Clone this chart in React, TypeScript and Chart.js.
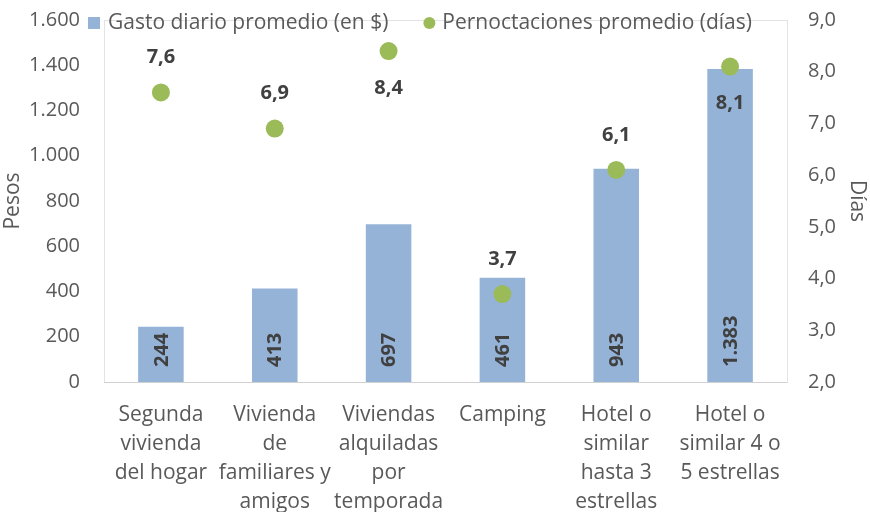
import React, { useEffect, useRef } from "react";
import { Chart, registerables } from "chart.js";

Chart.register(...registerables);

const categories: string[][] = [
  ["Segunda", "vivienda", "del hogar"],
  ["Vivienda", "de", "familiares y", "amigos"],
  ["Viviendas", "alquiladas", "por", "temporada"],
  ["Camping"],
  ["Hotel o", "similar", "hasta 3", "estrellas"],
  ["Hotel o", "similar 4 o", "5 estrellas"],
];
const gastoDiario = [244, 413, 697, 461, 943, 1383];
const pernoctaciones = [7.6, 6.9, 8.4, 3.7, 6.1, 8.1];
const pointLabelAbove = [true, true, false, true, true, false];
const leftTicks = { min: 0, max: 1600, step: 200 };
const rightTicks = { min: 2, max: 9, step: 1 };
const seriesNames = ["Gasto diario promedio (en $)", "Pernoctaciones promedio (días)"];
const axisTitles = ["Pesos", "Días"];

const FONT = "'Open Sans', sans-serif";
const FS = 20;
const FS_BIG = 21;
const TEXT = "#595959";
const LABEL = "#404040";
const BAR = "#95B3D7";
const DOT = "#9BBB59";

const fmtThousands = (v: number) =>
  String(Math.round(v)).replace(/\B(?=(\d{3})+(?!\d))/g, ".");
const fmtDec = (v: number) => v.toFixed(1).replace(".", ",");

const overlayPlugin = {
  id: "overlay",
  beforeDatasetsDraw(chart: any) {
    const { ctx, chartArea: a } = chart;
    ctx.save();
    ctx.strokeStyle = "#E3E3E3";
    ctx.lineWidth = 1;
    ctx.strokeRect(a.left + 0.5, a.top + 0.5, a.right - a.left, a.bottom - a.top);
    ctx.strokeStyle = "#D0D0D0";
    ctx.beginPath();
    ctx.moveTo(a.left, a.bottom + 0.5);
    ctx.lineTo(a.right, a.bottom + 0.5);
    ctx.stroke();
    ctx.restore();
  },
  afterDatasetsDraw(chart: any) {
    const { ctx } = chart;
    ctx.save();
    ctx.font = `bold ${FS}px ${FONT}`;
    ctx.fillStyle = LABEL;
    const bars = chart.getDatasetMeta(0).data;
    bars.forEach((el: any, i: number) => {
      ctx.save();
      ctx.translate(el.x, el.base - 15);
      ctx.rotate(-Math.PI / 2);
      ctx.textAlign = "left";
      ctx.textBaseline = "middle";
      ctx.fillText(fmtThousands(gastoDiario[i]), 0, 1);
      ctx.restore();
    });
    const pts = chart.getDatasetMeta(1).data;
    pts.forEach((el: any, i: number) => {
      ctx.textAlign = "center";
      ctx.textBaseline = "middle";
      const dy = pointLabelAbove[i] ? -35 : 37;
      ctx.fillText(fmtDec(pernoctaciones[i]), el.x, el.y + dy);
    });

    // legend
    ctx.font = `${FS_BIG}px ${FONT}`;
    ctx.textBaseline = "middle";
    ctx.textAlign = "left";
    const ly = 23;
    let x = 88;
    ctx.fillStyle = BAR;
    ctx.fillRect(x, ly - 6, 12, 12);
    x += 20;
    ctx.fillStyle = TEXT;
    ctx.fillText(seriesNames[0], x, ly);
    x += ctx.measureText(seriesNames[0]).width + 35;
    ctx.fillStyle = DOT;
    ctx.beginPath();
    ctx.arc(x + 6, ly, 6, 0, Math.PI * 2);
    ctx.fill();
    x += 19;
    ctx.fillStyle = TEXT;
    ctx.fillText(seriesNames[1], x, ly);
    ctx.restore();
  },
};

const noPad = (s: any) => {
  s.paddingTop = 0;
  s.paddingBottom = 0;
};

export default function App() {
  const ref = useRef<HTMLCanvasElement>(null);
  useEffect(() => {
    document.body.style.margin = "0";
    const chart = new Chart(ref.current as HTMLCanvasElement, {
      type: "bar",
      data: {
        labels: categories,
        datasets: [
          {
            type: "bar",
            label: seriesNames[0],
            data: gastoDiario,
            backgroundColor: BAR,
            yAxisID: "y",
            barPercentage: 0.4,
            categoryPercentage: 1,
            order: 2,
          },
          {
            type: "line",
            label: seriesNames[1],
            data: pernoctaciones,
            yAxisID: "y1",
            showLine: false,
            pointRadius: 9,
            pointBackgroundColor: DOT,
            pointBorderWidth: 0,
            borderColor: DOT,
            order: 1,
          } as any,
        ],
      },
      options: {
        animation: false,
        responsive: false,
        layout: { padding: { top: 20, left: 0, right: 0, bottom: 0 } },
        plugins: { legend: { display: false }, tooltip: { enabled: false } },
        scales: {
          x: {
            grid: { display: false, drawTicks: false },
            border: { display: false },
            ticks: {
              color: TEXT,
              font: { family: FONT, size: FS_BIG, lineHeight: 1.38 },
              padding: 19,
              maxRotation: 0,
              autoSkip: false,
            },
            afterFit(s: any) {
              s.height = 130;
              s.paddingLeft = 0;
              s.paddingRight = 0;
            },
          },
          y: {
            position: "left",
            min: leftTicks.min,
            max: leftTicks.max,
            grid: { display: false, drawTicks: false },
            border: { display: false },
            ticks: {
              stepSize: leftTicks.step,
              color: TEXT,
              font: { family: FONT, size: FS },
              padding: 24,
              callback: (v: any) => fmtThousands(Number(v)),
            },
            title: {
              display: true,
              text: axisTitles[0],
              color: TEXT,
              font: { family: FONT, size: FS_BIG },
              padding: 0,
            },
            afterFit(s: any) {
              s.width = 104;
              noPad(s);
            },
          },
          y1: {
            position: "right",
            min: rightTicks.min,
            max: rightTicks.max,
            grid: { display: false, drawTicks: false },
            border: { display: false },
            ticks: {
              stepSize: rightTicks.step,
              color: TEXT,
              font: { family: FONT, size: FS },
              padding: 21,
              callback: (v: any) => fmtDec(Number(v)),
            },
            title: {
              display: true,
              text: axisTitles[1],
              color: TEXT,
              font: { family: FONT, size: FS_BIG },
              padding: 0,
            },
            afterFit(s: any) {
              s.width = 83;
              noPad(s);
            },
          },
        },
      },
      plugins: [overlayPlugin],
    } as any);
    return () => chart.destroy();
  }, []);
  return <canvas ref={ref} width={870} height={512} style={{ display: "block" }} />;
}
